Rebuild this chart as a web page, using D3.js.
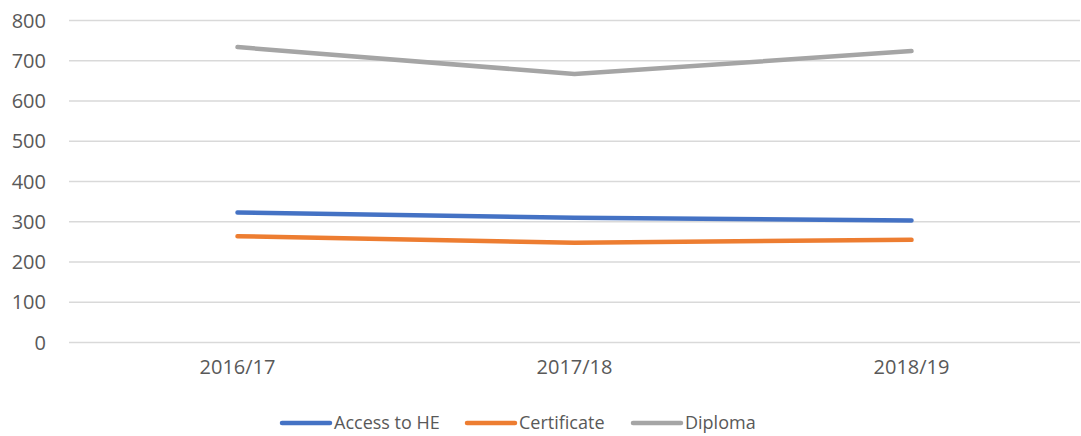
<!DOCTYPE html>
<html>
<head>
<meta charset="utf-8">
<script src="https://cdn.jsdelivr.net/npm/d3@7"></script>
<style>
  body { margin: 0; background: #fff; }
  text { font-family: "Open Sans", "Noto Sans", sans-serif; fill: #595959; }
</style>
</head>
<body>
<div class="chart"></div>
<script>
// chart data
const years = ["2016/17", "2017/18", "2018/19"];
const accessHE = [323, 310, 303];
const certificate = [264, 248, 255];
const diploma = [734, 667, 724];
const yTicks = [0, 100, 200, 300, 400, 500, 600, 700, 800];

const series = [
    {name: "Access to HE", values: accessHE, color: "#4472c4"},
    {name: "Certificate", values: certificate, color: "#ed7d31"},
    {name: "Diploma", values: diploma, color: "#a5a5a5"}
];

const W = 1081, H = 436;
var margin = {top: 20.5, right: 1, bottom: 93.5, left: 69},
    width = W - margin.left - margin.right,
    height = H - margin.top - margin.bottom;

var svg = d3.select(".chart")
    .append("svg")
    .attr("width", W)
    .attr("height", H)
    .append("g")
    .attr("transform", "translate(" + margin.left + "," + margin.top + ")");

var x = d3.scaleBand().domain(years).range([0, width]);
var y = d3.scaleLinear().domain([0, 800]).range([height, 0]);

// gridlines
svg.selectAll(".grid")
    .data(yTicks)
    .enter()
    .append("line")
    .attr("x1", 0)
    .attr("x2", width)
    .attr("y1", d => y(d))
    .attr("y2", d => y(d))
    .style("stroke", "#d9d9d9")
    .style("stroke-width", 1.3);

// y labels
svg.selectAll(".ylab")
    .data(yTicks)
    .enter()
    .append("text")
    .attr("x", -23)
    .attr("y", d => y(d))
    .attr("dy", "0.35em")
    .attr("text-anchor", "end")
    .style("font-size", "20px")
    .text(d => d);

// x labels
svg.selectAll(".xlab")
    .data(years)
    .enter()
    .append("text")
    .attr("x", d => x(d) + x.bandwidth() / 2)
    .attr("y", height + 24)
    .attr("dy", "0.35em")
    .attr("text-anchor", "middle")
    .style("font-size", "20px")
    .text(d => d);

var line = d3.line()
    .x((d, i) => x(years[i]) + x.bandwidth() / 2)
    .y(d => y(d));

series.forEach(function(s) {
    svg.append("path")
        .attr("d", line(s.values))
        .style("fill", "none")
        .style("stroke", s.color)
        .style("stroke-width", 4.5)
        .style("stroke-linecap", "round")
        .style("stroke-linejoin", "round");
});

// legend
var legendX = [282, 467, 633];
var legend = d3.select("svg").append("g");
series.forEach(function(s, i) {
    legend.append("line")
        .attr("x1", legendX[i]).attr("x2", legendX[i] + 48)
        .attr("y1", 423).attr("y2", 423)
        .style("stroke", s.color)
        .style("stroke-width", 4.5)
        .style("stroke-linecap", "round");
    legend.append("text")
        .attr("x", legendX[i] + 52)
        .attr("y", 423)
        .attr("dy", "0.35em")
        .style("font-size", "18px")
        .text(s.name);
});
</script>
</body>
</html>
